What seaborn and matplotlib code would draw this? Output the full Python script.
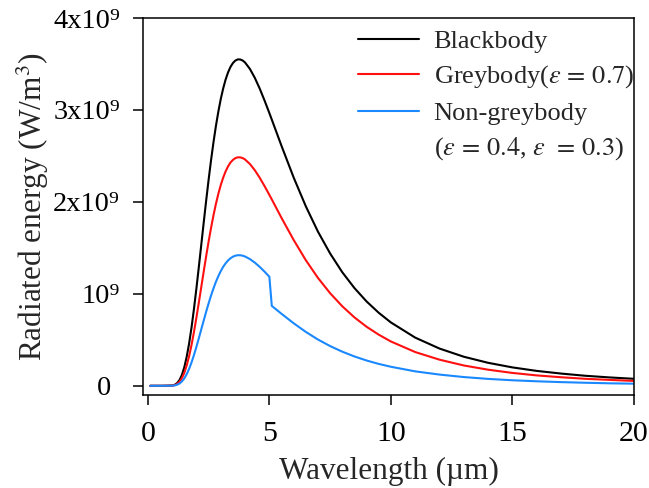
import matplotlib
matplotlib.use("Agg")
import matplotlib.pyplot as plt
from matplotlib.lines import Line2D
import seaborn as sns
import pandas as pd

# Wavelength (um)
wavelength = [0.1, 0.6, 1.0, 1.1, 1.2, 1.3, 1.4, 1.5, 1.6, 1.7, 1.8, 1.9, 2.0, 2.1, 2.2, 2.3,
              2.4, 2.5, 2.6, 2.7, 2.8, 2.9, 3.0, 3.1, 3.2, 3.3, 3.4, 3.5, 3.6, 3.7, 3.8, 3.9,
              4.0, 4.2, 4.4, 4.6, 4.8, 5.0, 5.1, 5.5, 6.0, 6.5, 7.0, 7.5, 8.0,
              8.5, 9.0, 9.5, 10, 11, 12, 13, 14, 15, 16, 17, 18, 19, 20]
# Radiated energy (x10^9 W/m^3)
blackbody = [0.0, 0.0, 0.003, 0.010, 0.028, 0.061, 0.117, 0.201, 0.317, 0.463, 0.639, 0.841,
             1.062, 1.297, 1.537, 1.778, 2.014, 2.240, 2.452, 2.647, 2.824, 2.981, 3.118,
             3.234, 3.331, 3.408, 3.468, 3.510, 3.537, 3.550, 3.549, 3.538,
             3.516, 3.446, 3.350, 3.234, 3.104, 2.966,
             2.895, 2.609, 2.265, 1.952, 1.676, 1.439, 1.235, 1.063, 0.917, 0.794, 0.689,
             0.524, 0.405, 0.316, 0.250, 0.200, 0.162, 0.133, 0.109, 0.091, 0.076]
greybody = [0.0, 0.0, 0.002, 0.007, 0.019, 0.043, 0.082, 0.141, 0.222, 0.324, 0.447, 0.589,
            0.744, 0.908, 1.076, 1.245, 1.410, 1.568, 1.716, 1.853, 1.977, 2.087, 2.183,
            2.264, 2.332, 2.386, 2.428, 2.457, 2.476, 2.485, 2.484, 2.477,
            2.461, 2.412, 2.345, 2.264, 2.173, 2.076,
            2.027, 1.826, 1.586, 1.366, 1.173, 1.007, 0.865, 0.744, 0.642, 0.556, 0.482,
            0.367, 0.284, 0.221, 0.175, 0.140, 0.113, 0.093, 0.076, 0.064, 0.053]
nongreybody = [0.0, 0.0, 0.001, 0.004, 0.011, 0.024, 0.047, 0.080, 0.127, 0.185, 0.256, 0.336,
               0.425, 0.519, 0.615, 0.711, 0.806, 0.896, 0.981, 1.059, 1.130, 1.192, 1.247,
               1.294, 1.332, 1.363, 1.387, 1.404, 1.415, 1.420, 1.420, 1.415,
               1.406, 1.378, 1.340, 1.294, 1.242, 1.186,
               0.869, 0.783, 0.680, 0.586, 0.503, 0.432, 0.371, 0.319, 0.275, 0.238, 0.207,
               0.157, 0.122, 0.095, 0.075, 0.060, 0.049, 0.040, 0.033, 0.027, 0.023]

series_labels = ["Blackbody", r"Greybody($\varepsilon\,=\,0.7$)", "Non-greybody"]
extra_label = r"($\varepsilon\,=\,0.4$, $\varepsilon\;\,=\,0.3$)"
series_colors = ["#000000", "#ff1010", "#1a88ff"]

x_ticks = [0, 5, 10, 15, 20]
y_ticks = [0, 1, 2, 3, 4]
y_tick_labels = ["0", "10\u2079", "2x10\u2079", "3x10\u2079", "4x10\u2079"]

sns.set_style("ticks")
plt.rcParams["font.family"] = ["Liberation Serif", "DejaVu Serif"]
plt.rcParams["mathtext.fontset"] = "stix"

fig = plt.figure(figsize=(6.49, 4.88), dpi=100)
ax = fig.add_axes([0.2203, 0.1906, 0.7565, 0.7725])

df = pd.DataFrame({"wl": wavelength, "bb": blackbody, "gb": greybody, "ngb": nongreybody})
for col, lab, c in zip(["bb", "gb", "ngb"], series_labels, series_colors):
    sns.lineplot(data=df, x="wl", y=col, ax=ax, color=c, label=lab, linewidth=1.5)

ax.set_xlim(-0.2, 20)
ax.set_ylim(-0.1, 4.0)
ax.set_xticks(x_ticks)
ax.set_xticklabels([str(t) for t in x_ticks])
ax.set_yticks(y_ticks)
ax.set_yticklabels(y_tick_labels)
ax.tick_params(axis="both", direction="out", length=7, width=1.1, colors="black")
ax.tick_params(axis="x", pad=12, labelsize=21.5)
ax.tick_params(axis="y", pad=9.6, labelsize=20.5)
for s in ax.spines.values():
    s.set_linewidth(1.1)
    s.set_color("black")
    s.set_visible(True)

ax.set_xlabel("Wavelength (µm)", fontsize=22.5, va="top")
ax.xaxis.set_label_coords(0.5, -0.165)
ax.set_ylabel(r"Radiated energy (W/m$^3$)", fontsize=22.5)
ax.yaxis.set_label_coords(-0.187, 0.5)

handles, labels = ax.get_legend_handles_labels()
handles.append(Line2D([], [], color="none"))
labels.append(extra_label)
leg = ax.legend(handles, labels, loc="upper right", frameon=False, fontsize=19,
                handlelength=2.3, handletextpad=0.55, labelspacing=0.41,
                borderpad=0.1, borderaxespad=0.0, bbox_to_anchor=(1.006, 0.977))

# the "0" label sits aligned with the base digits of the other labels
ax.yaxis.get_major_ticks()[0].label1.set_x(-0.018)

fig.savefig("out.png", dpi=100)
